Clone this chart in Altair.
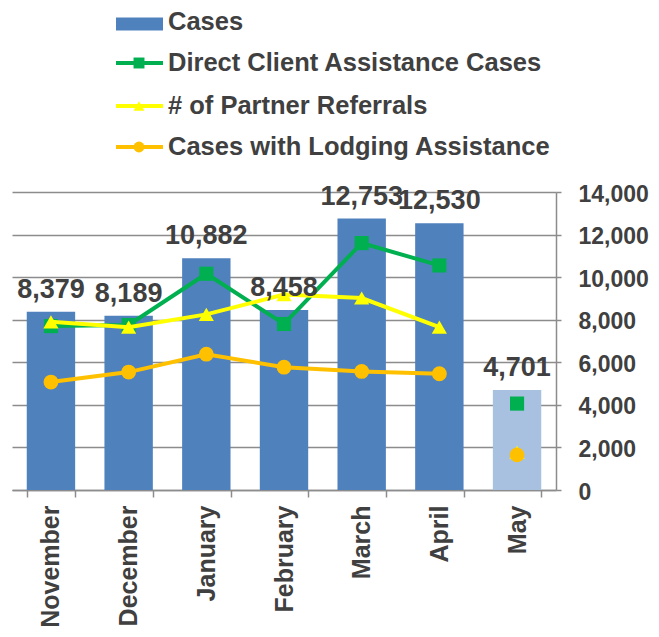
import altair as alt
import pandas as pd

months = ["November", "December", "January", "February", "March", "April", "May"]
cases = [8379, 8189, 10882, 8458, 12753, 12530, 4701]
direct = [7700, 7750, 10160, 7800, 11600, 10550, 4060]
referrals = [7900, 7650, 8250, 9180, 9020, 7650, 1770]
lodging = [5070, 5540, 6380, 5770, 5570, 5460, 1650]

legend_names = ["Cases", "Direct Client Assistance Cases", "# of Partner Referrals",
                "Cases with Lodging Assistance"]

FONT = "Liberation Sans"
TXT = "#404040"
GRID = "#8c8c8c"
BLUE = "#4f81bd"
PATTERN = "#a9c1e0"
GREEN, YELLOW, ORANGE = "#00b050", "#ffff00", "#ffc000"
series_style = [
    (direct, GREEN, "square", 200),
    (referrals, YELLOW, "triangle-up", 230),
    (lodging, ORANGE, "circle", 220),
]

W, H = 544, 298
df_cases = pd.DataFrame({"month": months, "cases": cases})

X = alt.X("month:N", sort=months, title=None,
          scale=alt.Scale(paddingInner=0.377, paddingOuter=0.19),
          axis=alt.Axis(orient="bottom", labelAngle=-90, labelFont=FONT, labelFontSize=25,
                        labelFontWeight="bold", labelColor=TXT, labelPadding=8,
                        tickBand="extent", tickSize=7, tickColor=GRID, tickWidth=1.5,
                        domainColor=GRID, domainWidth=1.5, grid=False))


def Y(field):
    return alt.Y(field, title=None, scale=alt.Scale(domain=[0, 14000]),
                 axis=alt.Axis(orient="right", values=list(range(0, 14001, 2000)),
                               format=",.0f", labelFont=FONT, labelFontSize=23,
                               labelFontWeight="bold", labelColor=TXT, labelPadding=17,
                               labelOffset=2,
                               tickSize=5, tickColor=GRID, tickWidth=1.5, domainColor=GRID,
                               domainWidth=1.5, grid=True, gridColor=GRID, gridWidth=1.5))


base = alt.Chart(df_cases)
bars = base.mark_bar().encode(
    x=X, y=Y("cases:Q"),
    color=alt.condition(alt.datum.month == "May", alt.value(PATTERN), alt.value(BLUE)),
)
labels = base.mark_text(baseline="alphabetic", dy=-14, font=FONT, fontSize=27,
                        fontWeight="bold", color=TXT).encode(
    x=X, y=Y("cases:Q"), text=alt.Text("cases:Q", format=","))

layers = [bars]
for vals, col, shp, sz in series_style:
    sdf = pd.DataFrame({"month": months, "value": vals})
    sb = alt.Chart(sdf)
    line = sb.mark_line(color=col, strokeWidth=4).encode(x=X, y=Y("value:Q")).transform_filter(
        alt.datum.month != "May")
    pts = sb.mark_point(filled=True, opacity=1, color=col, shape=shp, size=sz).encode(
        x=X, y=Y("value:Q"))
    layers += [line, pts]
layers.append(labels)

# legend drawn above the plot area (layout positions in pixels)
row_y = [-170, -129, -86, -45]
sym_x0, sym_x1, sym_xc, text_x = 104, 151, 127, 156
leg_style = [(BLUE, None), (GREEN, "square"), (YELLOW, "triangle-up"), (ORANGE, "circle")]
for i, name in enumerate(legend_names):
    col, shp = leg_style[i]
    ld = alt.Chart(pd.DataFrame({"name": [name]}))
    if shp is None:
        layers.append(ld.mark_rule(strokeWidth=13, strokeCap="butt", color=col).encode(
            x=alt.value(sym_x0), x2=alt.value(sym_x1), y=alt.value(row_y[i] + 2)))
    else:
        layers.append(ld.mark_rule(strokeWidth=4, strokeCap="butt", color=col).encode(
            x=alt.value(sym_x0), x2=alt.value(sym_x1), y=alt.value(row_y[i])))
        layers.append(ld.mark_point(filled=True, opacity=1, size=120, shape=shp, color=col).encode(
            x=alt.value(sym_xc), y=alt.value(row_y[i])))
    layers.append(ld.mark_text(align="left", baseline="middle", font=FONT, fontSize=25.5,
                               fontWeight="bold", color=TXT).encode(
        x=alt.value(text_x), y=alt.value(row_y[i]), text="name:N"))

chart = alt.layer(*layers).properties(
    width=W, height=H,
    autosize=alt.AutoSizeParams(type="none"),
    padding={"left": 4, "top": 184, "right": 95, "bottom": 139},
).configure_view(stroke=None)

chart.save("out.html", embed_options={"renderer": "svg", "actions": False})
